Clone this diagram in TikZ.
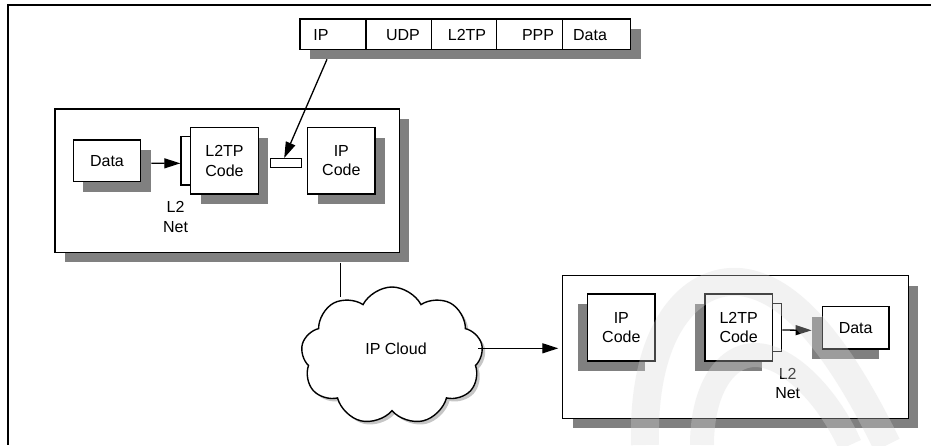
\documentclass[tikz,border=0pt]{standalone}
\usepackage{fontspec}
\setmainfont{Liberation Sans}
\usetikzlibrary{arrows.meta,shapes.symbols,shadows}
\definecolor{shd}{HTML}{808080}
\definecolor{wm}{gray}{0.85}
\begin{document}
\begin{tikzpicture}[x=1pt,y=-1pt,
  font=\fontsize{16}{19.3}\selectfont,
  box/.style={draw, line width=1.4pt, fill=white, inner sep=0pt, align=center},
  shR/.style={drop shadow={shadow xshift=10pt, shadow yshift=-10pt, fill=shd, opacity=1}},
  shL/.style={drop shadow={shadow xshift=-10pt, shadow yshift=-10pt, fill=shd, opacity=1}},
  arr/.style={-{Triangle[length=16pt,width=10pt]}, line width=1.3pt},
  lbl/.style={inner sep=0pt, align=center},
  wmark/.style={draw=wm, draw opacity=0.32, line width=28pt}]
\useasboundingbox (0,0) rectangle (931,445);
% outer frame
\draw[line width=1.7pt] (931,5.3) -- (8,5.3) -- (8,445);

% packet bar
\node[box, draw=none, shR, minimum width=330.7pt, minimum height=30.3pt] (pkt) at (465.35,34.15) {};
\node[box, minimum width=66pt, minimum height=30.3pt] (c1) at (333,34.15) {};
\node[box, minimum width=65.3pt, minimum height=30.3pt] (c2) at (398.65,34.15) {};
\node[box, minimum width=65.4pt, minimum height=30.3pt] (c3) at (464,34.15) {};
\node[box, minimum width=65.6pt, minimum height=30.3pt] (c4) at (529.5,34.15) {};
\node[box, minimum width=68.4pt, minimum height=30.3pt] (c5) at (596.5,34.15) {};
\node[lbl] (t1) at (321,34.8) {IP};
\node[lbl] (t2) at (403,34.8) {UDP};
\node[lbl] (t3) at (467,34.8) {L2TP};
\node[lbl] (t4) at (538,34.8) {PPP};
\node[lbl] (t5) at (590,34.8) {Data};
\coordinate (pkttail) at (327,59.3);

% left host
\node[box, shR, minimum width=344.3pt, minimum height=143.3pt] (hostL) at (227.15,180.65) {};
\node[box, shR, minimum width=67.4pt, minimum height=41.7pt] (dataL) at (107,160.8) {Data};
\node[box, minimum width=9.7pt, minimum height=48.3pt] (brL) at (185.85,160.85) {};
\node[box, shR, minimum width=67.6pt, minimum height=66.3pt] (l2tpL) at (224.5,160.85) {L2TP\\Code};
\node[box, minimum width=31pt, minimum height=8.6pt] (sr) at (286.2,163) {};
\node[box, shR, minimum width=67.3pt, minimum height=66.3pt] (ipL) at (341.35,160.85) {IP\\Code};
\node[lbl] (netL) at (175.5,217) {L2\\Net};
\draw[arr] ([xshift=10pt,yshift=-2.5pt]dataL.east) -- ([yshift=-2.5pt]brL.west);
\draw[arr] (pkttail) -- ([xshift=-2pt]sr.north);

% cloud
\node[cloud, cloud puffs=9, cloud puff arc=125, aspect=1.3, draw, line width=1.4pt, fill=white,
  drop shadow={shadow xshift=3pt, shadow yshift=-3pt, fill=gray!45, opacity=1},
  minimum width=182pt, minimum height=138pt, inner sep=0pt] (cloud) at (392,356) {};
\node[lbl] (cloudt) at (396,348.3) {IP Cloud};
\coordinate (vtop) at (340.7,262.7);
\coordinate (vbot) at (340.7,296.5);
\draw[line width=1.3pt] (vtop) -- (vbot);
\coordinate (ctail) at (478.3,348.3);
\coordinate (chead) at (558.3,348.3);
\draw[arr] (ctail) -- (chead);

% right host
\node[box, shR, minimum width=345.6pt, minimum height=142.6pt] (hostR) at (735.5,347) {};
\node[box, shL, minimum width=67.3pt, minimum height=67pt] (ipR) at (621.35,327.5) {IP\\Code};
\node[box, shL, minimum width=67.3pt, minimum height=67pt] (l2tpR) at (738.65,327.5) {L2TP\\Code};
\node[box, minimum width=9.4pt, minimum height=48.4pt] (brR) at (777,327.5) {};
\node[box, shL, minimum width=66.7pt, minimum height=42.3pt] (dataR) at (855.65,327.85) {Data};
\node[lbl] (netR) at (787.7,383.5) {L2\\Net};
\draw[arr] ([yshift=-2.5pt]brR.east) -- ([xshift=-10pt,yshift=-2.5pt]dataR.west);

% faint watermark swooshes
\draw[wmark] (645,445) .. controls (642,330) and (690,278) .. (740,282) .. controls (800,288) and (850,370) .. (887,445);
\draw[wmark, line width=24pt] (702,445) .. controls (702,390) and (725,355) .. (755,355) .. controls (790,355) and (830,400) .. (850,445);
\end{tikzpicture}
\end{document}
